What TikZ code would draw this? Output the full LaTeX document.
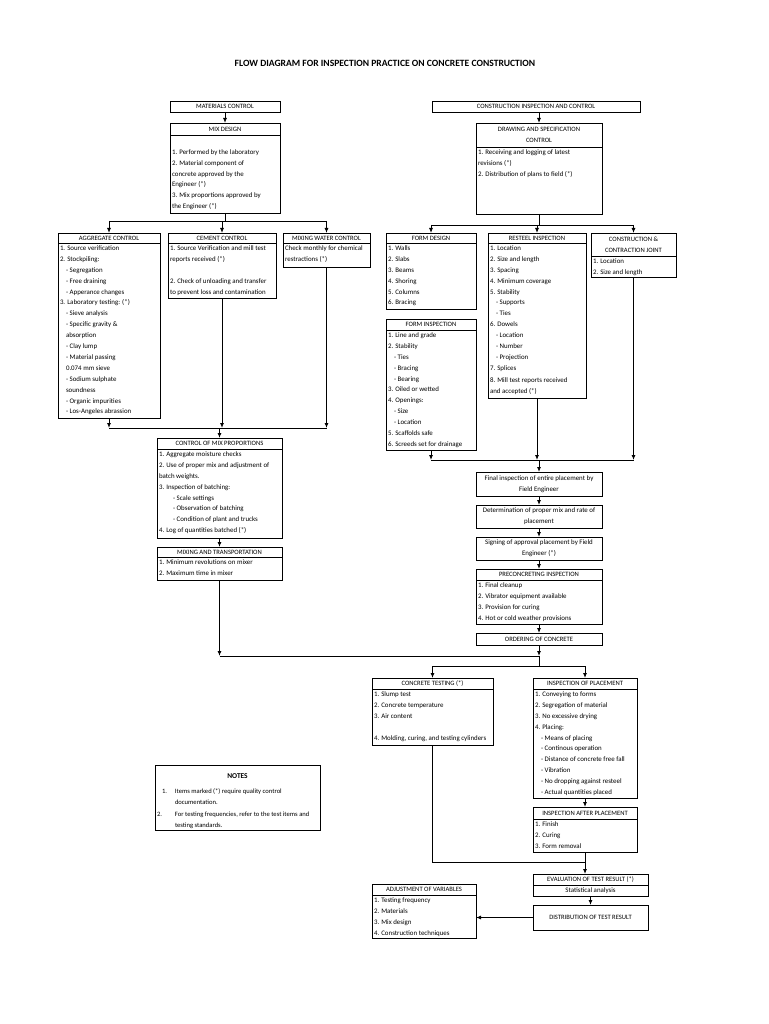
\documentclass[tikz,border=0pt]{standalone}
\usepackage{fontspec}
\setmainfont{Carlito}
\usetikzlibrary{arrows.meta,positioning}

\newcommand{\hdfont}{\fontsize{6.6}{10.9}\selectfont}
\newcommand{\bdfont}{\fontsize{6.9}{10.9}\selectfont}
\newcommand{\cellbox}[3]{\parbox[t][#2pt][t]{#1pt}{\raggedright\rule{0pt}{7.4pt}#3}}
\newcommand{\ind}{\hspace*{6pt}}
\newcommand{\indd}{\hspace*{14pt}}

\tikzset{
  head/.style={draw, line width=0.9pt, anchor=north west, inner sep=0pt, outer sep=0pt, align=center, font=\hdfont},
  body/.style={draw, line width=0.9pt, anchor=north west, inner xsep=2pt, inner ysep=0pt, outer sep=0pt, font=\bdfont},
  flow/.style={line width=0.9pt},
  arr/.style={line width=0.9pt, -{Latex[length=5pt,width=4pt]}},
}

\begin{document}
\begin{tikzpicture}[x=1pt,y=-1pt]
\fill[white] (0,0) rectangle (768,1024);
\useasboundingbox (0,0) rectangle (768,1024);

\node[font=\fontsize{9.6}{11}\selectfont\bfseries] (title) at (385,63)
  {FLOW DIAGRAM FOR INSPECTION PRACTICE ON CONCRETE CONSTRUCTION};

% materials side
\node[head, minimum width=110pt, minimum height=11pt] (matctl) at (170,101) {MATERIALS CONTROL};
\node[head, minimum width=110pt, minimum height=12pt] (mixhdr) at (170,123) {MIX DESIGN};
\node[body] (mixbody) at (mixhdr.south west) {\cellbox{106}{78}{\\[1pt]
  1. Performed by the laboratory\\
  2. Material component of\\ concrete approved by the\\ Engineer (*)\\
  3. Mix proportions approved by\\ the Engineer (*)}};

\node[head, minimum width=102pt, minimum height=10pt] (agghdr) at (58,233) {AGGREGATE CONTROL};
\node[body] (aggbody) at (agghdr.south west) {\cellbox{98}{175}{%
  1. Source verification\\
  2. Stockpiling:\\
  \ind - Segregation\\ \ind - Free draining\\ \ind - Apperance changes\\
  3. Laboratory testing: (*)\\
  \ind - Sieve analysis\\ \ind - Specific gravity \&\\ \ind absorption\\
  \ind - Clay lump\\ \ind - Material passing\\ \ind 0.074 mm sieve\\
  \ind - Sodium sulphate\\ \ind soundness\\ \ind - Organic impurities\\
  \ind - Los-Angeles abrassion}};

\node[head, minimum width=108pt, minimum height=10pt] (cemhdr) at (168,233) {CEMENT CONTROL};
\node[body] (cembody) at (cemhdr.south west) {\cellbox{104}{55}{%
  1. Source Verification and mill test\\ reports received (*)\\ \mbox{}\\
  2. Check of unloading and transfer\\ to prevent loss and contamination}};

\node[head, minimum width=87pt, minimum height=10pt] (wathdr) at (283,233) {MIXING WATER CONTROL};
\node[body] (watbody) at (wathdr.south west) {\cellbox{83}{24}{%
  Check monthly for chemical\\ restractions (*)}};

\node[head, minimum width=125pt, minimum height=11pt] (cmphdr) at (157,438) {CONTROL OF MIX PROPORTIONS};
\node[body] (cmpbody) at (cmphdr.south west) {\cellbox{121}{89}{%
  1. Aggregate moisture checks\\
  2. Use of proper mix and adjustment of\\ batch weights.\\
  3. Inspection of batching:\\
  \indd - Scale settings\\ \indd - Observation of batching\\ \indd - Condition of plant and trucks\\
  4. Log of quantities batched (*)}};

\node[head, minimum width=125pt, minimum height=10pt] (mthdr) at (157,547) {MIXING AND TRANSPORTATION};
\node[body] (mtbody) at (mthdr.south west) {\cellbox{121}{23}{%
  1. Minimum revolutions on mixer\\ 2. Maximum time in mixer}};

% construction side
\node[head, minimum width=208pt, minimum height=11pt] (cic) at (432,101) {CONSTRUCTION INSPECTION AND CONTROL};
\node[head, minimum width=126pt, minimum height=24pt] (dschdr) at (476,123) {DRAWING AND SPECIFICATION\\ CONTROL};
\node[body] (dscbody) at (dschdr.south west) {\cellbox{122}{67}{%
  1. Receiving and logging of latest\\ revisions (*)\\
  2. Distribution of plans to field (*)}};

\node[head, minimum width=90pt, minimum height=10pt] (fdhdr) at (386,233) {FORM DESIGN};
\node[body] (fdbody) at (fdhdr.south west) {\cellbox{86}{66}{%
  1. Walls\\ 2. Slabs\\ 3. Beams\\ 4. Shoring\\ 5. Columns\\ 6. Bracing}};

\node[head, minimum width=90pt, minimum height=11pt] (fihdr) at (386,319) {FORM INSPECTION};
\node[body] (fibody) at (fihdr.south west) {\cellbox{86}{120}{%
  1. Line and grade\\ 2. Stability\\
  \ind - Ties\\ \ind - Bracing\\ \ind - Bearing\\
  3. Oiled or wetted\\ 4. Openings:\\
  \ind - Size\\ \ind - Location\\
  5. Scaffolds safe\\ 6. Screeds set for drainage}};

\node[head, minimum width=98pt, minimum height=10pt] (rshdr) at (488,233) {RESTEEL INSPECTION};
\node[body] (rsbody) at (rshdr.south west) {\cellbox{94}{155}{%
  1. Location\\ 2. Size and length\\ 3. Spacing\\ 4. Minimum coverage\\ 5. Stability\\
  \ind - Supports\\ \ind - Ties\\ 6. Dowels\\
  \ind - Location\\ \ind - Number\\ \ind - Projection\\
  7. Splices\\[1.5pt] 8. Mill test reports received\\ and accepted (*)}};

\node[head, minimum width=85pt, minimum height=23pt] (cjhdr) at (591,233) {CONSTRUCTION \&\\ CONTRACTION JOINT};
\node[body] (cjbody) at (cjhdr.south west) {\cellbox{81}{21}{%
  1. Location\\ 2. Size and length}};

\node[head, minimum width=126pt, minimum height=24pt, font=\bdfont] (fin) at (476,472) {Final inspection of entire placement by\\ Field Engineer};
\node[head, minimum width=126pt, minimum height=23pt, font=\bdfont] (det) at (476,505) {Determination of proper mix and rate of\\ placement};
\node[head, minimum width=126pt, minimum height=23pt, font=\bdfont] (sig) at (476,537) {Signing of approval placement by Field\\ Engineer (*)};
\node[head, minimum width=126pt, minimum height=11pt] (prehdr) at (476,569) {PRECONCRETING INSPECTION};
\node[body] (prebody) at (prehdr.south west) {\cellbox{122}{44}{%
  1. Final cleanup\\ 2. Vibrator equipment available\\
  3. Provision for curing\\ 4. Hot or cold weather provisions}};
\node[head, minimum width=126pt, minimum height=12pt] (ord) at (476,633) {ORDERING OF CONCRETE};

% testing and placement
\node[head, minimum width=121pt, minimum height=11pt] (cthdr) at (372,678) {CONCRETE TESTING (*)};
\node[body] (ctbody) at (cthdr.south west) {\cellbox{117}{56}{%
  1. Slump test\\ 2. Concrete temperature\\ 3. Air content\\ \mbox{}\\
  4. Molding, curing, and testing cylinders}};

\node[head, minimum width=104pt, minimum height=11pt] (iphdr) at (533,678) {INSPECTION OF PLACEMENT};
\node[body] (ipbody) at (iphdr.south west) {\cellbox{100}{109}{%
  1. Conveying to forms\\ 2. Segregation of material\\ 3. No excessive drying\\ 4. Placing:\\
  \ind - Means of placing\\ \ind - Continous operation\\ \ind - Distance of concrete free fall\\
  \ind - Vibration\\ \ind - No dropping against resteel\\ \ind - Actual quantities placed}};

\node[head, minimum width=104pt, minimum height=12pt] (iaphdr) at (533,807) {INSPECTION AFTER PLACEMENT};
\node[body] (iapbody) at (iaphdr.south west) {\cellbox{100}{33}{%
  1. Finish\\ 2. Curing\\ 3. Form removal}};

\node[head, minimum width=115pt, minimum height=11pt] (evhdr) at (533,874) {EVALUATION OF TEST RESULT (*)};
\node[head, minimum width=115pt, minimum height=11pt, font=\bdfont] (evbody) at (evhdr.south west) {Statistical analysis};
\node[head, minimum width=115pt, minimum height=25pt] (dist) at (533,905) {DISTRIBUTION OF TEST RESULT};

\node[head, minimum width=104pt, minimum height=11pt] (adjhdr) at (372,884) {ADJUSTMENT OF VARIABLES};
\node[body] (adjbody) at (adjhdr.south west) {\cellbox{100}{43}{%
  1. Testing frequency\\ 2. Materials\\ 3. Mix design\\ 4. Construction techniques}};

% notes
\node[body, font=\fontsize{6.6}{11.2}\selectfont] (notes) at (155,765) {\cellbox{161}{65}{%
  {\centering\rule{0pt}{13.5pt}\fontsize{7.4}{10}\bfseries NOTES\par}\vspace{4pt}
  \hspace*{5pt}\makebox[13pt][l]{1.}Items marked (*) require quality control\\
  \hspace*{18pt}documentation.\\
  \makebox[18pt][l]{2.}For testing frequencies, refer to the test items and\\
  \hspace*{18pt}testing standards.}};

% connectors, materials side
\draw[arr] (matctl) -- (mixhdr);
\draw[flow] (mixbody.south) -- ++(0,8) coordinate (jl1);
\draw[flow] (agghdr.north |- jl1) -- (wathdr.north |- jl1);
\foreach \n in {agghdr,cemhdr,wathdr}
  \draw[arr] (\n.north |- jl1) -- (\n.north);
\coordinate (jl2) at (0,428);
\foreach \n in {aggbody,cembody,watbody}
  \draw[arr] (\n.south) -- (\n.south |- jl2);
\draw[flow] (aggbody.south |- jl2) -- (watbody.south |- jl2);
\draw[arr] (cmphdr.north |- jl2) -- (cmphdr.north);
\draw[arr] (cmpbody) -- (mthdr);

% connectors, construction side
\draw[arr] (dschdr.north |- cic.south) -- (dschdr.north);
\draw[flow] (dscbody.south) -- ++(0,11) coordinate (jr1);
\draw[flow] (fdhdr.north |- jr1) -- (cjhdr.north |- jr1);
\foreach \n in {fdhdr,rshdr,cjhdr}
  \draw[arr] (\n.north |- jr1) -- (\n.north);
\coordinate (jr2) at (0,460);
\foreach \n in {fibody,rsbody,cjbody}
  \draw[arr] (\n.south) -- (\n.south |- jr2);
\draw[flow] (fibody.south |- jr2) -- (cjbody.south |- jr2);
\draw[arr] (fin.north |- jr2) -- (fin.north);
\draw[arr] (fin) -- (det);
\draw[arr] (det) -- (sig);
\draw[arr] (sig) -- (prehdr);
\draw[arr] (prebody) -- (ord);

% joining both sides
\coordinate (jm) at (0,656);
\draw[arr] (mtbody.south) -- (mtbody.south |- jm);
\draw[arr] (ord.south) -- (ord.south |- jm);
\draw[flow] (mtbody.south |- jm) -- (ord.south |- jm);
\coordinate (jb) at (0,666);
\draw[flow] (ord.south |- jm) -- (ord.south |- jb);
\draw[flow] (cthdr.north |- jb) -- (iphdr.north |- jb);
\draw[arr] (cthdr.north |- jb) -- (cthdr.north);
\draw[arr] (iphdr.north |- jb) -- (iphdr.north);

% results
\draw[arr] (ipbody) -- (iaphdr);
\coordinate (je) at (0,862);
\draw[flow] (ctbody.south) -- (ctbody.south |- je) -- (iapbody.south |- je);
\draw[arr] (iapbody.south) -- (iapbody.south |- evhdr.north);
\draw[arr] (evbody) -- (dist);
\draw[arr] (dist.west) -- (dist.west -| adjbody.east);

\end{tikzpicture}
\end{document}
